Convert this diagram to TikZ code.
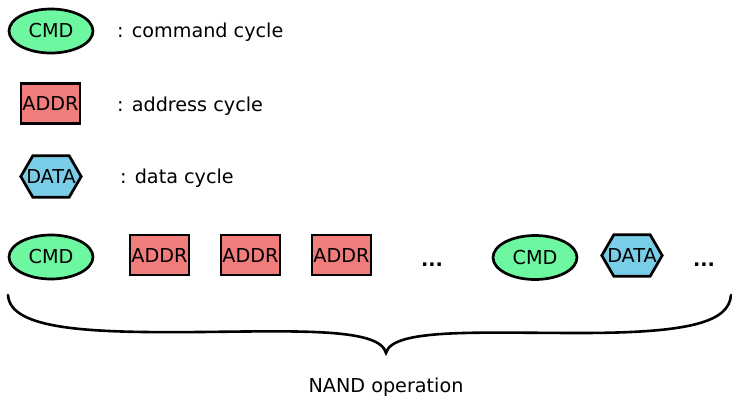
\documentclass[tikz,border=0pt]{standalone}
\usepackage{fontspec}
\setmainfont{DejaVu Sans}
\usetikzlibrary{shapes.geometric,backgrounds}
\definecolor{cmdgreen}{RGB}{108,247,160}
\definecolor{addrred}{RGB}{240,124,124}
\definecolor{datablue}{RGB}{122,205,230}
\tikzset{
  every node/.style={font=\fontsize{19.2}{23}\selectfont},
  cmd/.style={ellipse,draw,line width=2.7pt,fill=cmdgreen,minimum width=84pt,minimum height=44pt,inner sep=0pt},
  addr/.style={rectangle,draw,line width=2.7pt,fill=addrred,minimum width=59pt,minimum height=40pt,inner sep=0pt},
  datanode/.style={rectangle,minimum width=60pt,minimum height=41pt,inner sep=0pt},
  hexline/.style={draw,line width=2.7pt,fill=datablue,line join=miter},
  legend/.style={anchor=base west,inner sep=0pt},
  dots/.style={anchor=base,inner sep=0pt,font=\fontsize{19.2}{23}\selectfont\bfseries},
  bracel/.style={line width=2.6pt,line cap=round}
}
\newcommand{\hexagonof}[1]{%
  \begin{pgfonlayer}{background}
  \path[hexline] (#1.west) -- ([xshift=12pt]#1.north west) -- ([xshift=-12pt]#1.north east) -- (#1.east) -- ([xshift=-12pt]#1.south east) -- ([xshift=12pt]#1.south west) -- cycle;
  \end{pgfonlayer}}
\begin{document}
\begin{tikzpicture}[x=1pt,y=-1pt]
\useasboundingbox (0,0) rectangle (732,397);
% legend
\node[cmd] (lcmd) at (51,31) {CMD};
\node[legend] (tcmd) at (117,37.5) {: command cycle};
\node[addr] (laddr) at (50.5,103.5) {ADDR};
\node[legend] (taddr) at (117,111) {: address cycle};
\node[datanode] (ldata) at (51,176.5) {DATA};
\hexagonof{ldata}
\node[legend] (tdata) at (120,183) {: data cycle};
% sequence
\node[cmd] (c1) at (51,257) {CMD};
\node[addr] (a1) at (159.5,255) {ADDR};
\node[addr] (a2) at (250.5,255) {ADDR};
\node[addr] (a3) at (341.5,255) {ADDR};
\node[dots] (d1) at (432,266) {...};
\node[cmd] (c2) at (535,257.5) {CMD};
\node[datanode] (dd) at (632,255.5) {DATA};
\hexagonof{dd}
\node[dots] (d2) at (704,266) {...};
% brace
\coordinate (bl) at (8,295);
\coordinate (bm) at (386,353);
\coordinate (br) at (731,295);
\draw[bracel] (bl) .. controls (10,330) and (90,333) .. (200,332)
  .. controls (300,331) and (380,328) .. (bm)
  .. controls (392,328) and (480,333) .. (580,333)
  .. controls (690,333) and (729,322) .. (br);
\node[anchor=base,inner sep=0pt] (lbl) at (386,392) {NAND operation};
\end{tikzpicture}
\end{document}
